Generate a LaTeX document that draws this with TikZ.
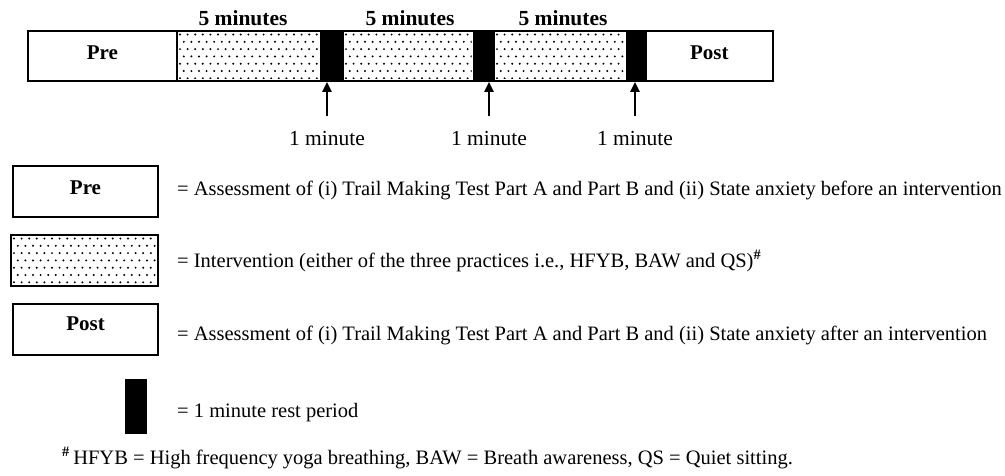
\documentclass[tikz,border=0pt]{standalone}
\usepackage{fontspec}
\setmainfont{Liberation Serif}
\usetikzlibrary{arrows.meta}
\newcommand\stipple[4]{%
  \begin{scope}
    \clip (#1+1.5,#2+1.5) rectangle (#3-1.5,#4-1.5);
    \foreach \r in {0,...,7}{%
      \foreach \c in {0,...,22}{%
        \fill ({#1+4+\c*7.6+mod(\r,2)*3.8},{#2+4.5+\r*7.3}) circle (1.1pt);
      }%
    }%
  \end{scope}}
\begin{document}
\begin{tikzpicture}[x=1pt,y=-1pt,
  seg/.style={draw, line width=1.8pt, minimum height=50pt, anchor=north west,
    inner sep=0pt, text depth=7pt, font=\bfseries\fontsize{21}{24}\selectfont},
  restblk/.style={draw, fill=black, line width=1.8pt, minimum height=50pt,
    anchor=north west, inner sep=0pt},
  lgbox/.style={draw, line width=2pt, minimum width=145pt, minimum height=51pt,
    anchor=north west, inner sep=0pt, text depth=7pt, font=\bfseries\fontsize{21}{24}\selectfont},
  toplbl/.style={anchor=base, inner sep=0pt, font=\bfseries\fontsize{21.5}{24}\selectfont},
  minlbl/.style={anchor=base, inner sep=0pt, font=\fontsize{21.5}{24}\selectfont},
  txt/.style={anchor=base west, inner sep=0pt, font=\fontsize{20.5}{24}\selectfont},
  arr/.style={line width=2.2pt, -{Triangle[length=10pt,width=9pt]}}
]
\useasboundingbox (0,0) rectangle (1005,475);
% timeline
\stipple{176}{30}{320}{80}
\stipple{342}{30}{473}{80}
\stipple{493}{30}{626}{80}
\node[seg, minimum width=149pt] (pre) at (27,30) {Pre};
\node[seg, minimum width=144pt] (d1) at (176,30) {};
\node[restblk, minimum width=22pt] (b1) at (320,30) {};
\node[seg, minimum width=131pt] (d2) at (342,30) {};
\node[restblk, minimum width=20pt] (b2) at (473,30) {};
\node[seg, minimum width=133pt] (d3) at (493,30) {};
\node[restblk, minimum width=19pt] (b3) at (626,30) {};
\node[seg, minimum width=127pt] (post) at (645,30) {Post};
% durations
\node[toplbl] (t1) at (243,25) {5 minutes};
\node[toplbl] (t2) at (410,25) {5 minutes};
\node[toplbl] (t3) at (563,25) {5 minutes};
\node[minlbl] (m1) at (327,145) {1 minute};
\node[minlbl] (m2) at (489,145) {1 minute};
\node[minlbl] (m3) at (635,145) {1 minute};
\draw[arr] ([yshift=15pt]m1.north) -- (m1.north |- b1.south);
\draw[arr] ([yshift=15pt]m2.north) -- (m2.north |- b2.south);
\draw[arr] ([yshift=15pt]m3.north) -- (m3.north |- b3.south);
% legend
\node[lgbox] (lpre) at (12,165) {Pre};
\stipple{10}{234}{157}{285}
\node[lgbox, minimum width=147pt] (lint) at (10,234) {};
\node[lgbox, text depth=12pt] (lpost) at (12,303) {Post};
\node[restblk, minimum width=20pt, minimum height=53pt] (lrest) at (125,379) {};
\node[txt] (e1) at (177,195) {= Assessment of (i) Trail Making Test Part A and Part B and (ii) State anxiety before an intervention};
\node[txt] (e2) at (177,267) {= Intervention (either of the three practices i.e., HFYB, BAW and QS)\textsuperscript{\bfseries\#}};
\node[txt] (e3) at (177,340) {= Assessment of (i) Trail Making Test Part A and Part B and (ii) State anxiety after an intervention};
\node[txt] (e4) at (177,417) {= 1 minute rest period};
\node[txt] (fn) at (62,464) {\textsuperscript{\bfseries\#}\,HFYB = High frequency yoga breathing, BAW = Breath awareness, QS = Quiet sitting.};
\end{tikzpicture}
\end{document}
